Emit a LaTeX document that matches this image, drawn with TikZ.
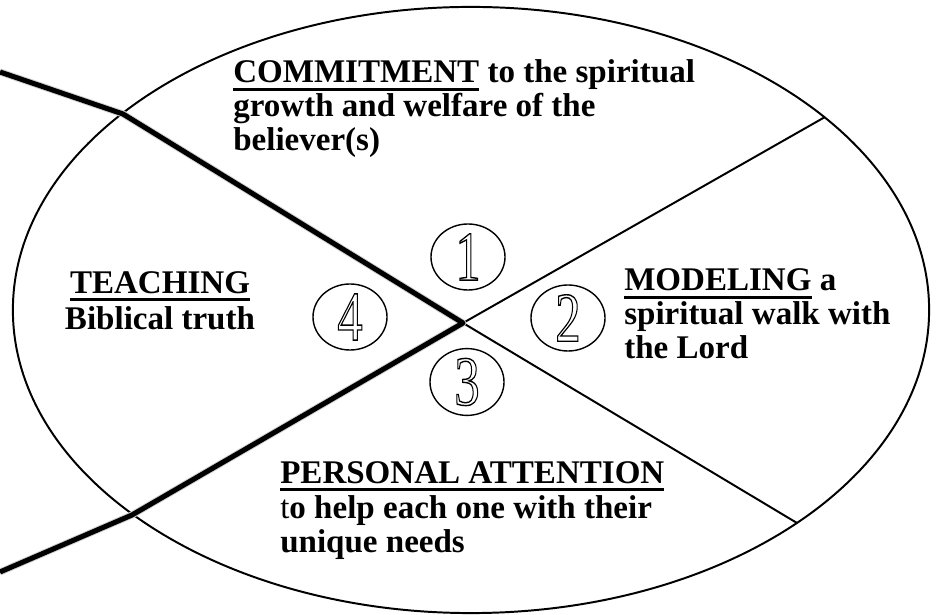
\documentclass[tikz,border=0pt]{standalone}
\usepackage{fontspec}
\setmainfont{Liberation Serif}
\usetikzlibrary{shapes.geometric}
\newcommand{\ulword}[1]{\setbox0\hbox{#1}\rlap{\rule[-5.5pt]{\wd0}{2pt}}\box0\relax}
\newcommand{\hollow}[1]{\scalebox{0.72}[1]{\special{pdf:code q 1 Tr 1 w}#1\special{pdf:code Q}}}
\tikzset{
  rim/.style={line width=1.4pt},
  spoke/.style={line width=1.4pt},
  divider/.style={line width=3.6pt,line join=round},
  dshadow/.style={line width=5pt,gray!35,line join=round},
  numring/.style={ellipse,draw,line width=1pt,minimum width=1.85cm,minimum height=1.65cm,inner sep=0pt,font=\fontsize{50}{50}\selectfont},
  blurb/.style={font=\fontsize{23.5}{24.2}\selectfont\bfseries,inner sep=0pt,align=left}
}

\begin{document}
\begin{tikzpicture}[x=0.025cm,y=-0.025cm]
    \useasboundingbox (0,0) rectangle (936,615);
    % outer ring
    \draw[rim] (471,310) ellipse [x radius=11.45cm, y radius=7.575cm];
    % spokes
    \coordinate (hub) at (463,323);
    \coordinate (ne) at (825,117);
    \coordinate (se) at (797,523);
    \coordinate (nwk) at (123,114);
    \coordinate (nwe) at (0,72);
    \coordinate (swk) at (132,515);
    \coordinate (swe) at (0,572);
    \draw[spoke] (hub) -- (ne);
    \draw[spoke] (hub) -- (se);
    \draw[dshadow,shift={(3,5)}] (nwe) -- (nwk) -- (hub) -- (swk) -- (swe);
    \draw[divider] (nwe) -- (nwk) -- (hub) -- (swk) -- (swe);
    % numbers
    \node[numring] (n1) at (468,257) {\hollow{1}};
    \node[numring] (n2) at (568,318) {\hollow{2}};
    \node[numring] (n3) at (467,382) {\hollow{3}};
    \node[numring] (n4) at (350,317) {\hollow{4}};
    % texts (base = last line)
    \node[blurb,anchor=base west] (commit) at (233,151)
        {\ulword{COMMITMENT} to the spiritual\\growth and welfare of the\\believer(s)};
    \node[blurb,anchor=base,align=center] (teach) at (160,330)
        {\ulword{TEACHING}\\[2pt]Biblical truth};
    \node[blurb,anchor=base west] (model) at (624,359)
        {\ulword{MODELING} a\\spiritual walk with\\the Lord};
    \node[blurb,anchor=base west] (attend) at (280,553)
        {\ulword{PERSONAL ATTENTION}\\[1pt]{\mdseries t}o help each one with their\\unique needs};
\end{tikzpicture}
\end{document}
